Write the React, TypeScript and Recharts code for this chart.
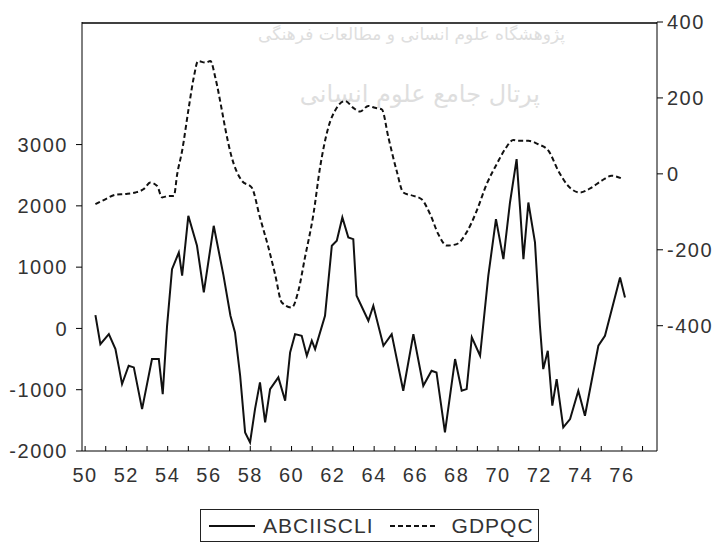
import React from "react"
import { LineChart, Line, XAxis, YAxis, CartesianGrid } from "recharts"

// ABCIBSCLI (left axis) — time in years (19xx)
const abciTime = [
  50.5, 50.74, 51.15, 51.47, 51.79, 52.11, 52.36, 52.76, 53.24, 53.57, 53.76, 53.97,
  54.21, 54.54, 54.7, 55.0, 55.42, 55.75, 56.23, 56.7, 57.04, 57.26, 57.51, 57.75,
  57.99, 58.23, 58.47, 58.72, 58.96, 59.36, 59.69, 59.93, 60.17, 60.49, 60.74, 60.98,
  61.14, 61.62, 61.95, 62.19, 62.46, 62.75, 62.99, 63.15, 63.72, 63.96, 64.45, 64.85,
  65.41, 65.9, 66.38, 66.78, 67.02, 67.43, 67.92, 68.24, 68.48, 68.73, 69.13, 69.53,
  69.9, 70.26, 70.58, 70.9, 71.07, 71.23, 71.47, 71.79, 72.03, 72.19, 72.41, 72.63,
  72.84, 73.16, 73.49, 73.89, 74.21, 74.86, 75.18, 75.91, 76.15,
]
const abciValues = [
  217, -256, -93, -338, -908, -609, -636, -1316, -500, -500, -1071, 43,
  967, 1240, 860, 1838, 1349, 587, 1675, 870, 207, -65, -772, -1697,
  -1860, -1316, -881, -1533, -990, -799, -1180, -392, -93, -119, -446, -201,
  -338, 207, 1349, 1430, 1811, 1485, 1457, 533, 125, 370, -282, -93,
  -1017, -93, -935, -690, -718, -1697, -500, -1017, -990, -147, -446, 860,
  1783, 1131, 2055, 2762, 1946, 1131, 2055, 1403, 43, -664, -364, -1261,
  -827, -1615, -1479, -1017, -1424, -282, -119, 832, 506,
]

// GDPQC (right axis)
const gdpTime = [
  50.5, 50.98, 51.47, 51.95, 52.44, 52.84, 53.16, 53.49, 53.73, 54.05, 54.3, 54.46,
  54.7, 55.02, 55.26, 55.47, 55.83, 56.07, 56.31, 56.63, 56.78, 57.07, 57.59, 58.07,
  58.47, 58.88, 59.2, 59.53, 60.01, 60.33, 60.65, 61.06, 61.38, 61.78, 62.19, 62.59,
  62.99, 63.32, 63.72, 64.04, 64.37, 64.69, 65.09, 65.41, 65.9, 66.3, 66.71, 67.11,
  67.52, 68.0, 68.48, 68.97, 69.45, 69.94, 70.34, 70.74, 70.98, 71.47, 71.95, 72.44,
  72.92, 73.4, 73.97, 74.53, 75.02, 75.5, 76.07,
]
const gdpValues = [
  -80, -67, -55, -53, -49, -40, -23, -32, -62, -58, -58, -1,
  61, 174, 253, 297, 293, 297, 253, 166, 122, 50, -18, -36,
  -115, -194, -264, -339, -352, -308, -220, -106, 17, 122, 174, 192,
  174, 164, 179, 174, 170, 96, 8, -49, -58, -67, -106, -159,
  -189, -185, -154, -97, -27, 26, 65, 89, 87, 87, 78, 61,
  8, -32, -49, -36, -18, -5, -14,
]

const yearTicks = [50, 51, 52, 53, 54, 55, 56, 57, 58, 59, 60, 61, 62, 63, 64, 65, 66, 67, 68, 69, 70, 71, 72, 73, 74, 75, 76, 77]
const leftTicks = [-2000, -1000, 0, 1000, 2000, 3000]
const rightTicks = [-400, -200, 0, 200, 400]

const abciData = abciTime.map((t, i) => ({ t, v: abciValues[i] }))
const gdpData = gdpTime.map((t, i) => ({ t, v: gdpValues[i] }))

const font = "'Liberation Sans', Arial, sans-serif"
const tickStyle = { fontSize: 20, fill: "#333", fontFamily: font, letterSpacing: 1.5 }

function YearTick(props: any) {
  const { x, y, payload } = props
  const yr = payload.value as number
  return (
    <g>
      <line x1={x} x2={x} y1={y} y2={y - 5} stroke="#000" strokeWidth={1} />
      {yr % 2 === 0 && yr <= 76 ? (
        <text x={x} y={y + 31} textAnchor="middle" {...tickStyle}>
          {yr}
        </text>
      ) : null}
    </g>
  )
}

export default function App() {
  return (
    <div style={{ position: "absolute", left: 0, top: 0, width: 723, height: 543, background: "#fff" }}>
      {/* faint watermark of the source scan */}
      <div style={{ position: "absolute", left: 300, top: 24, width: 265, textAlign: "center", color: "#dedede", fontFamily: "'DejaVu Sans'", fontSize: 17, direction: "rtl", whiteSpace: "nowrap" }}>
        پژوهشگاه علوم انسانی و مطالعات فرهنگی
      </div>
      <div style={{ position: "absolute", left: 320, top: 80, width: 220, textAlign: "center", color: "#dedede", fontFamily: "'DejaVu Sans'", fontSize: 24, direction: "rtl", whiteSpace: "nowrap" }}>
        پرتال جامع علوم انسانی
      </div>

      <div style={{ position: "absolute", left: 0, top: 0 }}>
        <LineChart width={723} height={543} margin={{ top: 22, right: 0, bottom: 52, left: 0 }}>
          <CartesianGrid
            vertical={false}
            horizontalPoints={[23]}
            stroke="#000"
            strokeWidth={1.5}
            yAxisId="left"
          />
          <XAxis
            dataKey="t"
            type="number"
            domain={[49.85, 77.7]}
            ticks={yearTicks}
            allowDataOverflow
            height={40}
            tickSize={0}
            tickMargin={0}
            tickLine={false}
            stroke="#000"
            tick={<YearTick />}
            interval={0}
          />
          <YAxis
            yAxisId="left"
            orientation="left"
            width={82}
            domain={[-2000, 5000]}
            ticks={leftTicks}
            allowDataOverflow
            tickSize={6}
            tickMargin={8}
            stroke="#000"
            tick={tickStyle}
            interval={0}
          />
          <YAxis
            yAxisId="right"
            orientation="right"
            width={66}
            domain={[-730, 400]}
            ticks={rightTicks}
            allowDataOverflow
            tickSize={6}
            tickMargin={4}
            stroke="#000"
            tick={tickStyle}
            interval={0}
          />
          <Line
            yAxisId="left"
            data={abciData}
            dataKey="v"
            type="linear"
            stroke="#111"
            strokeWidth={2}
            dot={false}
            isAnimationActive={false}
          />
          <Line
            yAxisId="right"
            data={gdpData}
            dataKey="v"
            type="monotone"
            stroke="#111"
            strokeWidth={2}
            strokeDasharray="5 3"
            dot={false}
            isAnimationActive={false}
          />
        </LineChart>
      </div>

      <div
        style={{
          position: "absolute",
          left: 200,
          top: 509,
          width: 337,
          height: 31,
          border: "1px solid #222",
          display: "flex",
          alignItems: "center",
          fontFamily: font,
          fontSize: 21,
          color: "#333",
          letterSpacing: 1,
        }}
      >
        <svg width={54} height={10} style={{ marginLeft: 8 }}>
          <line x1={0} x2={46} y1={5} y2={5} stroke="#111" strokeWidth={1.8} />
        </svg>
        <span>ABCIISCLI</span>
        <svg width={62} height={10} style={{ marginLeft: 16 }}>
          <line x1={0} x2={46} y1={5} y2={5} stroke="#111" strokeWidth={2} strokeDasharray="5 3" />
        </svg>
        <span>GDPQC</span>
      </div>
    </div>
  )
}
